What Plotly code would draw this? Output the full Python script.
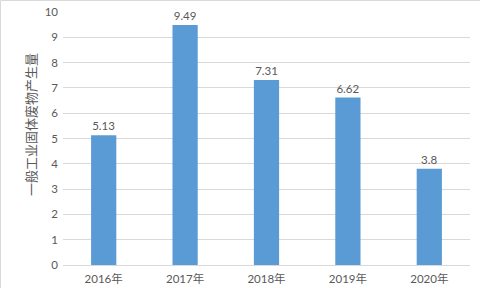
import plotly.graph_objects as go

categories = ["2016年", "2017年", "2018年", "2019年", "2020年"]
values = [5.13, 9.49, 7.31, 6.62, 3.8]
labels = ["5.13", "9.49", "7.31", "6.62", "3.8"]
y_title = "一般工业固体废物产生量"

FONT = "Lato, 'Noto Sans CJK SC', sans-serif"
GRAY = "#595959"

fig = go.Figure(go.Bar(
    x=categories, y=values, text=labels, textposition="outside",
    textfont=dict(family=FONT, size=11.5, color=GRAY),
    marker=dict(color="#5b9bd5", line=dict(width=0)),
    width=0.31, cliponaxis=False,
))

fig.update_layout(
    width=480, height=288,
    margin=dict(l=63, r=10, t=12, b=23, autoexpand=False),
    paper_bgcolor="white", plot_bgcolor="white",
    showlegend=False,
    font=dict(family=FONT, size=11.5, color=GRAY),
    xaxis=dict(showgrid=False, showline=True, linecolor="#d9d9d9", linewidth=1, automargin=False,
               ticks="", tickfont=dict(family=FONT, size=11.5, color=GRAY), ticklabelstandoff=3),
    yaxis=dict(range=[0, 10], dtick=1, showgrid=True, gridcolor="#d9d9d9", gridwidth=1,
               zeroline=False, showline=False, ticks="", automargin=False,
               tickfont=dict(family=FONT, size=11.5, color=GRAY), ticklabelstandoff=4),
    annotations=[dict(text=y_title, textangle=-90, xref="paper", yref="paper",
                      x=(30 - 63) / 407, y=(265 - 125) / 253, showarrow=False,
                      xanchor="center", yanchor="middle",
                      font=dict(family="'Noto Sans CJK SC', sans-serif", size=13, color=GRAY))],
    shapes=[dict(type="rect", xref="paper", yref="paper",
                 x0=(0.5 - 63) / 407, x1=(490 - 63) / 407,
                 y0=(265 - 300) / 253, y1=(265 - 0.5) / 253,
                 line=dict(color="#d9d9d9", width=1), layer="below")],
)

fig.write_html("out.html")
